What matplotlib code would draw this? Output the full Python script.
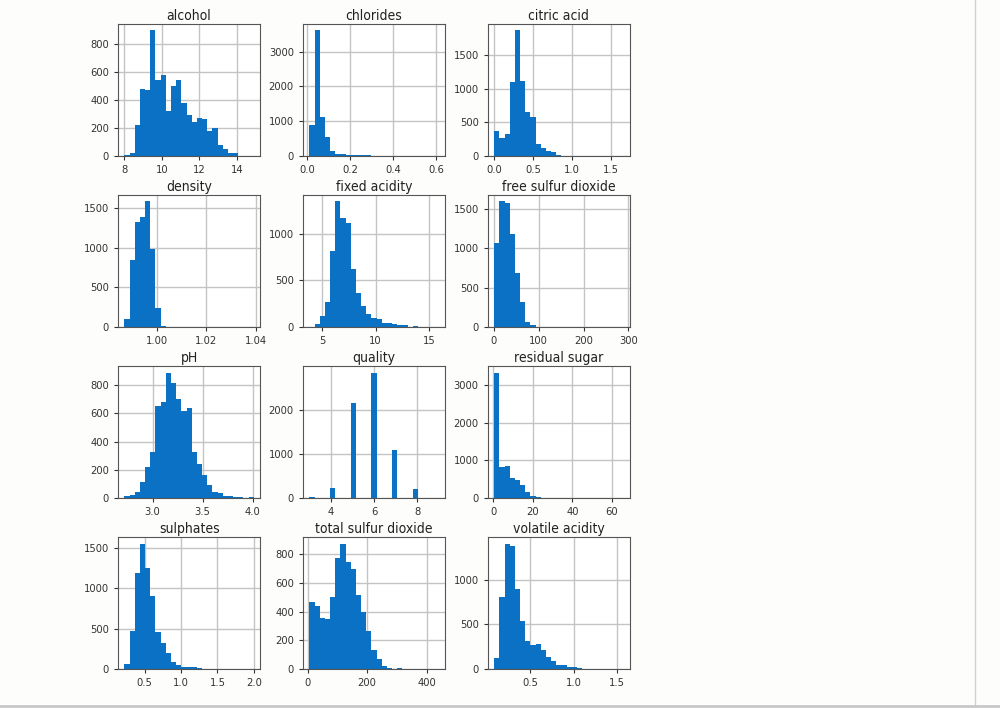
import numpy as np
import matplotlib
matplotlib.use("Agg")
import matplotlib.pyplot as plt
from matplotlib.lines import Line2D

# column names, value ranges (min, max) and counts in 25 equal bins
columns = ["alcohol", "chlorides", "citric acid",
           "density", "fixed acidity", "free sulfur dioxide",
           "pH", "quality", "residual sugar",
           "sulphates", "total sulfur dioxide", "volatile acidity"]

ranges = [(8.0, 14.9), (0.009, 0.611), (0.0, 1.66),
          (0.98711, 1.03898), (3.8, 15.9), (1.0, 289.0),
          (2.72, 4.01), (3.0, 9.0), (0.6, 65.8),
          (0.22, 2.0), (6.0, 440.0), (0.08, 1.58)]

alcohol = [2, 20, 220, 480, 470, 900, 540, 580, 320, 500, 540, 380, 290,
           245, 270, 260, 180, 200, 80, 45, 20, 20, 0, 0, 1]
chlorides = [890, 3620, 1130, 550, 145, 60, 35, 15, 12, 10, 8, 6, 5,
             3, 4, 2, 3, 1, 1, 0, 1, 0, 0, 1, 1]
citric_acid = [370, 270, 320, 1100, 1870, 1110, 650, 570, 170, 110, 75, 50, 4,
               2, 1, 0, 0, 0, 0, 0, 0, 0, 0, 0, 1]
density = [105, 850, 1320, 1390, 1585, 990, 242, 12, 0, 0, 0, 2, 0,
           0, 0, 0, 0, 0, 0, 0, 0, 0, 0, 0, 1]
fixed_acidity = [2, 25, 115, 270, 820, 1350, 1175, 1120, 620, 360, 225, 135, 100,
                 85, 45, 45, 25, 20, 20, 3, 4, 2, 1, 0, 1]
free_so2 = [1070, 1600, 1575, 1190, 685, 320, 65, 20, 4, 2, 0, 0, 1,
            0, 0, 0, 0, 0, 0, 0, 0, 0, 0, 0, 1]
ph = [15, 20, 40, 115, 218, 328, 655, 680, 890, 815, 705, 620, 638,
      328, 240, 165, 95, 45, 35, 15, 12, 10, 4, 1, 5]
quality = [30, 0, 0, 0, 216, 0, 0, 0, 2138, 0, 0, 0, 2836,
           0, 0, 0, 1079, 0, 0, 0, 193, 0, 0, 0, 5]
residual_sugar = [3330, 810, 850, 540, 480, 350, 165, 60, 25, 3, 2, 2, 0,
                  0, 0, 0, 0, 0, 0, 0, 0, 0, 0, 0, 1]
sulphates = [60, 470, 1190, 1550, 1255, 905, 455, 328, 197, 82, 53, 30, 20,
             20, 8, 4, 6, 3, 2, 2, 1, 1, 0, 1, 2]
total_so2 = [465, 440, 358, 350, 505, 775, 875, 745, 695, 515, 400, 265, 135,
             70, 23, 10, 3, 10, 0, 0, 1, 0, 0, 0, 1]
volatile_acidity = [122, 800, 1400, 1370, 890, 540, 318, 270, 282, 215, 140, 85, 48,
                    45, 18, 18, 10, 3, 2, 2, 1, 1, 0, 0, 2]

counts = [alcohol, chlorides, citric_acid,
          density, fixed_acidity, free_so2,
          ph, quality, residual_sugar,
          sulphates, total_so2, volatile_acidity]

bar_color = "#0a71c4"
plt.rcParams['font.family'] = ['DejaVu Sans']
plt.rcParams['font.stretch'] = 'condensed'

fig, axes = plt.subplots(4, 3, figsize=(10, 7.08), dpi=100)
fig.patch.set_facecolor("#fdfdfb")
fig.subplots_adjust(left=0.118, right=0.630, top=0.966, bottom=0.055,
                    wspace=0.30, hspace=0.30)

for ax, name, (lo, hi), c in zip(axes.flat, columns, ranges, counts):
    edges = np.linspace(lo, hi, len(c) + 1)
    ax.hist(edges[:-1], bins=edges, weights=c, color=bar_color, zorder=2)
    ax.set_title(name, fontsize=10, pad=3, color="#222222")
    ax.grid(True, color="#c4c4c4", linewidth=1.0, zorder=0)
    ax.set_axisbelow(True)
    ax.tick_params(labelsize=8, colors="#333333", length=3)
    for s in ax.spines.values():
        s.set_color("#555555")

# notebook frame lines
fig.add_artist(Line2D([0.975, 0.975], [0.0, 1.0], transform=fig.transFigure,
                      color="#d0d0d0", linewidth=1))
fig.add_artist(Line2D([0.0, 1.0], [0.003, 0.003], transform=fig.transFigure,
                      color="#c8c8c8", linewidth=2))

fig.savefig("out.png", dpi=100, facecolor=fig.get_facecolor())
